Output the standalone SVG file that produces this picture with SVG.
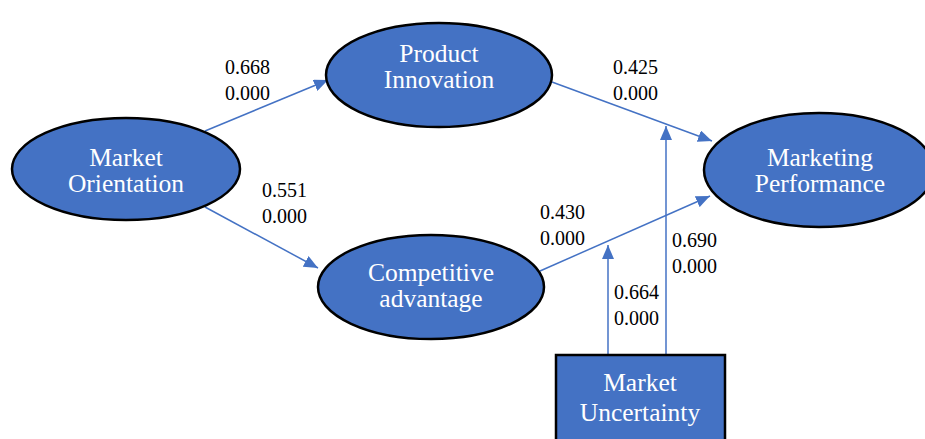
<svg xmlns="http://www.w3.org/2000/svg" width="925" height="439" viewBox="0 0 925 439">
<defs>
<style>
.node{fill:#4472C4;stroke:#000;stroke-width:2.5}
.nt{font-family:"Liberation Serif",serif;font-size:25.5px;fill:#fff;text-anchor:middle}
.lb{font-family:"Liberation Serif",serif;font-size:20px;fill:#000}
.c{stroke:#4472C4;stroke-width:1.5;fill:none;marker-end:url(#ah)}
</style>
<marker id="ah" viewBox="0 0 14 12" refX="14" refY="6" markerWidth="14" markerHeight="12" markerUnits="userSpaceOnUse" orient="auto">
<path d="M0,0 L14,6 L0,12 z" fill="#4472C4"/>
</marker>
</defs>
<rect width="925" height="439" fill="#fff"/>
<g id="connectors">
<line class="c" x1="205" y1="131" x2="328" y2="80"/>
<line class="c" x1="205" y1="207" x2="318" y2="268"/>
<line class="c" x1="552" y1="82" x2="712" y2="141"/>
<line class="c" x1="540" y1="271" x2="710" y2="196"/>
<line class="c" x1="608" y1="355" x2="608" y2="245"/>
<line class="c" x1="666" y1="355" x2="666" y2="126"/>
</g>
<g id="labels">
<text class="lb" x="225" y="74">0.668</text><text class="lb" x="225" y="100">0.000</text>
<text class="lb" x="613" y="74">0.425</text><text class="lb" x="613" y="100">0.000</text>
<text class="lb" x="262" y="197">0.551</text><text class="lb" x="262" y="223">0.000</text>
<text class="lb" x="540" y="219">0.430</text><text class="lb" x="540" y="245">0.000</text>
<text class="lb" x="672" y="247">0.690</text><text class="lb" x="672" y="273">0.000</text>
<text class="lb" x="614" y="299">0.664</text><text class="lb" x="614" y="325">0.000</text>
</g>
<g id="market-orientation">
<ellipse class="node" cx="126" cy="169" rx="114" ry="51"/>
<text class="nt" x="126" y="166">Market</text><text class="nt" x="126" y="192">Orientation</text>
</g>
<g id="product-innovation">
<ellipse class="node" cx="439" cy="75" rx="113" ry="52"/>
<text class="nt" x="439" y="62">Product</text><text class="nt" x="439" y="88">Innovation</text>
</g>
<g id="competitive-advantage">
<ellipse class="node" cx="431" cy="287" rx="113" ry="52"/>
<text class="nt" x="431" y="281">Competitive</text><text class="nt" x="431" y="307">advantage</text>
</g>
<g id="marketing-performance">
<ellipse class="node" cx="819" cy="170" rx="115" ry="57"/>
<text class="nt" x="820" y="166">Marketing</text><text class="nt" x="820" y="192">Performance</text>
</g>
<g id="market-uncertainty">
<rect class="node" x="556" y="355" width="169" height="90"/>
<text class="nt" x="640" y="391">Market</text><text class="nt" x="640" y="421">Uncertainty</text>
</g>
</svg>
